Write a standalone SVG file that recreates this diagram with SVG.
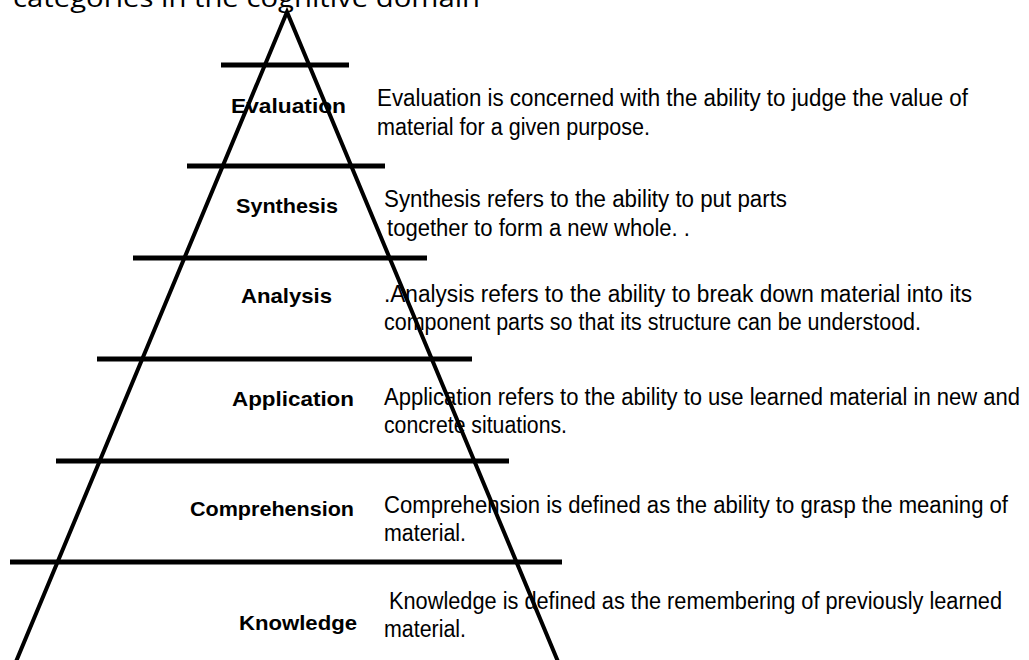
<svg xmlns="http://www.w3.org/2000/svg" width="1029" height="660" viewBox="0 0 1029 660">
<style>
.bg{fill:#ffffff}
.side{stroke:#000;stroke-width:4;fill:none;stroke-linejoin:miter}
.bar{stroke:#000;stroke-width:5;fill:none}
.lbl{font-family:"Liberation Sans",Arial,sans-serif;font-weight:bold;font-size:21px;fill:#000}
.desc{font-family:"Liberation Sans",Arial,sans-serif;font-size:23px;fill:#000}
.title{font-family:"Open Sans","Noto Sans",sans-serif;font-size:26px;fill:#000}
</style>
<rect class="bg" x="0" y="0" width="1029" height="660"/>
<text class="title" x="13" y="7" textLength="467" lengthAdjust="spacingAndGlyphs">categories in the cognitive domain</text>
<g id="connectors">
<path class="side" d="M15,664 L287,12 L559,664"/>
<line class="bar" x1="221" y1="65" x2="349" y2="65"/>
<line class="bar" x1="187" y1="166" x2="385" y2="166"/>
<line class="bar" x1="133" y1="258" x2="427" y2="258"/>
<line class="bar" x1="97" y1="359" x2="472" y2="359"/>
<line class="bar" x1="56" y1="461" x2="509" y2="461"/>
<line class="bar" x1="10" y1="562" x2="562" y2="562"/>
</g>
<g id="evaluation">
<text class="lbl" x="231" y="113" textLength="115" lengthAdjust="spacingAndGlyphs">Evaluation</text>
<text class="desc" x="377" y="106" textLength="591" lengthAdjust="spacingAndGlyphs">Evaluation is concerned with the ability to judge the value of</text>
<text class="desc" x="377" y="135" textLength="273" lengthAdjust="spacingAndGlyphs">material for a given purpose.</text>
</g>
<g id="synthesis">
<text class="lbl" x="236" y="213" textLength="102" lengthAdjust="spacingAndGlyphs">Synthesis</text>
<text class="desc" x="384" y="207" textLength="403" lengthAdjust="spacingAndGlyphs">Synthesis refers to the ability to put parts</text>
<text class="desc" x="387" y="236" textLength="303" lengthAdjust="spacingAndGlyphs">together to form a new whole. .</text>
</g>
<g id="analysis">
<text class="lbl" x="241" y="303" textLength="91" lengthAdjust="spacingAndGlyphs">Analysis</text>
<text class="desc" x="384" y="302" textLength="588" lengthAdjust="spacingAndGlyphs">.Analysis refers to the ability to break down material into its</text>
<text class="desc" x="384" y="330" textLength="537" lengthAdjust="spacingAndGlyphs">component parts so that its structure can be understood.</text>
</g>
<g id="application">
<text class="lbl" x="232" y="406" textLength="122" lengthAdjust="spacingAndGlyphs">Application</text>
<text class="desc" x="384" y="405" textLength="636" lengthAdjust="spacingAndGlyphs">Application refers to the ability to use learned material in new and</text>
<text class="desc" x="384" y="433" textLength="183" lengthAdjust="spacingAndGlyphs">concrete situations.</text>
</g>
<g id="comprehension">
<text class="lbl" x="190" y="516" textLength="164" lengthAdjust="spacingAndGlyphs">Comprehension</text>
<text class="desc" x="384" y="513" textLength="624" lengthAdjust="spacingAndGlyphs">Comprehension is defined as the ability to grasp the meaning of</text>
<text class="desc" x="384" y="541" textLength="82" lengthAdjust="spacingAndGlyphs">material.</text>
</g>
<g id="knowledge">
<text class="lbl" x="239" y="630" textLength="118" lengthAdjust="spacingAndGlyphs">Knowledge</text>
<text class="desc" x="389" y="609" textLength="613" lengthAdjust="spacingAndGlyphs">Knowledge is defined as the remembering of previously learned</text>
<text class="desc" x="384" y="637" textLength="82" lengthAdjust="spacingAndGlyphs">material.</text>
</g>
</svg>
